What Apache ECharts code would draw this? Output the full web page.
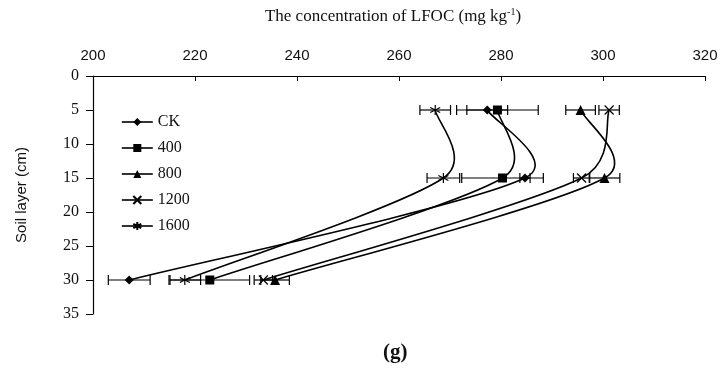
<!doctype html>
<html>
<head>
<meta charset="UTF-8">
<title>LFOC</title>
<script src="https://cdn.jsdelivr.net/npm/echarts@6/dist/echarts.min.js"></script>
<style>
  html, body { margin: 0; padding: 0; background: #fff; }
  #chart { width: 723px; height: 379px; }
</style>
</head>
<body>
<div id="chart"></div>
<script>
// soil depth (cm) of each sample
var depths = [5, 15, 30];
// LFOC means (mg kg-1) and error bar half widths
var ckVals = [277.3, 284.7, 207.1];
var ckErr = [4, 1, 4.1];
var t400Vals = [279.3, 280.3, 222.9];
var t400Err = [8, 8, 7.8];
var t800Vals = [295.6, 300.3, 235.7];
var t800Err = [2.9, 3, 2.8];
var t1200Vals = [301.2, 295.8, 233.4];
var t1200Err = [2, 1.6, 1.8];
var t1600Vals = [267.1, 268.7, 218.0];
var t1600Err = [3, 3.2, 3.1];
var xTicks = [200, 220, 240, 260, 280, 300, 320];
var yTicks = [0, 5, 10, 15, 20, 25, 30, 35];

var groups = [
  { name: 'CK', vals: ckVals, err: ckErr, symbol: 'diamond', size: 9 },
  { name: '400', vals: t400Vals, err: t400Err, symbol: 'rect', size: 9 },
  { name: '800', vals: t800Vals, err: t800Err, symbol: 'triangle', size: 10 },
  { name: '1200', vals: t1200Vals, err: t1200Err, symbol: 'path://M0,0L10,10M10,0L0,10', size: 9, hollow: true },
  { name: '1600', vals: t1600Vals, err: t1600Err, symbol: 'path://M5,0L5,10M0.7,2.5L9.3,7.5M9.3,2.5L0.7,7.5', size: 10, hollow: true }
];

// Excel-like smoothed line: tangent = next - prev, arm = 1/6 of it,
// but never more than half of the neighbouring segment
function smoothSegs(pts) {
  var n = pts.length, cin = [], cout = [];
  var dist = function(a, b) { return Math.hypot(b[0] - a[0], b[1] - a[1]); };
  for (var i = 0; i < n; i++) {
    var p = pts[i];
    var a = pts[Math.max(i - 1, 0)], b = pts[Math.min(i + 1, n - 1)];
    var vx = b[0] - a[0], vy = b[1] - a[1];
    var L = Math.hypot(vx, vy) || 1;
    var ux = vx / L, uy = vy / L;
    var armIn = i > 0 ? Math.min(L / 6, dist(pts[i - 1], p) / 2) : 0;
    var armOut = i < n - 1 ? Math.min(L / 6, dist(p, pts[i + 1]) / 2) : 0;
    cin[i] = [p[0] - ux * armIn, p[1] - uy * armIn];
    cout[i] = [p[0] + ux * armOut, p[1] + uy * armOut];
  }
  var segs = [];
  for (var j = 0; j < n - 1; j++) {
    segs.push({
      x1: pts[j][0], y1: pts[j][1],
      cpx1: cout[j][0], cpy1: cout[j][1],
      cpx2: cin[j + 1][0], cpy2: cin[j + 1][1],
      x2: pts[j + 1][0], y2: pts[j + 1][1]
    });
  }
  return segs;
}

var series = [];
// error bars first, drawn under the lines
groups.forEach(function(g) {
  var bars = depths.map(function(d, i) {
    return [g.vals[i] - g.err[i], g.vals[i] + g.err[i], d];
  });
  series.push({
    type: 'custom',
    z: 1,
    silent: true,
    data: bars,
    renderItem: function(params, api) {
      var a = api.coord([api.value(0), api.value(2)]);
      var b = api.coord([api.value(1), api.value(2)]);
      var h = 5;
      var st = { stroke: '#000', lineWidth: 1.2 };
      return {
        type: 'group',
        children: [
          { type: 'line', shape: { x1: a[0], y1: a[1], x2: b[0], y2: b[1] }, style: st },
          { type: 'line', shape: { x1: a[0], y1: a[1] - h, x2: a[0], y2: a[1] + h }, style: st },
          { type: 'line', shape: { x1: b[0], y1: b[1] - h, x2: b[0], y2: b[1] + h }, style: st }
        ]
      };
    }
  });
});
// smoothed curves
groups.forEach(function(g) {
  series.push({
    type: 'custom',
    z: 2,
    silent: true,
    data: [[g.vals[0], depths[0]]],
    renderItem: function(params, api) {
      var pts = depths.map(function(d, i) { return api.coord([g.vals[i], d]); });
      return {
        type: 'group',
        children: smoothSegs(pts).map(function(sg) {
          return { type: 'bezierCurve', shape: sg, style: { stroke: '#000', fill: null, lineWidth: 1.6 } };
        })
      };
    }
  });
});
// markers (and legend entries)
groups.forEach(function(g) {
  series.push({
    name: g.name,
    type: 'line',
    z: 3,
    symbol: g.symbol,
    symbolSize: g.size,
    data: depths.map(function(d, i) { return [g.vals[i], d]; }),
    lineStyle: { color: '#000', width: 1.6, opacity: 0 },
    itemStyle: g.hollow ? { color: 'none', borderColor: '#000', borderWidth: 1.2 } : { color: '#000' },
    emphasis: { disabled: true }
  });
});

var chart = echarts.init(document.getElementById('chart'));
chart.setOption({
  animation: false,
  backgroundColor: '#fff',
  title: {
    text: 'The concentration of LFOC (mg kg{sup|-1})',
    left: 388,
    textAlign: 'center',
    top: 2,
    textStyle: {
      fontFamily: 'Liberation Serif',
      fontSize: 17,
      fontWeight: 'normal',
      color: '#111',
      rich: {
        sup: { fontFamily: 'Liberation Serif', fontSize: 10, color: '#111', padding: [0, 0, 9, 0] }
      }
    }
  },
  legend: {
    orient: 'vertical',
    left: 116,
    top: 109,
    itemWidth: 31,
    itemHeight: 10,
    itemGap: 10,
    data: groups.map(function(g) { return g.name; }),
    lineStyle: { color: '#000', width: 1.6, opacity: 1 },
    textStyle: { fontFamily: 'Liberation Serif', fontSize: 16, color: '#111' }
  },
  grid: { left: 93, right: 18, top: 76, bottom: 65 },
  xAxis: {
    type: 'value',
    position: 'top',
    min: xTicks[0],
    max: xTicks[xTicks.length - 1],
    interval: 20,
    axisLine: { lineStyle: { color: '#000', width: 1.2 } },
    axisTick: { inside: true, length: 5, lineStyle: { color: '#000' } },
    axisLabel: { margin: 13, fontFamily: 'Liberation Sans', fontSize: 15, color: '#111' },
    splitLine: { show: false }
  },
  yAxis: {
    type: 'value',
    inverse: true,
    min: yTicks[0],
    max: yTicks[yTicks.length - 1],
    interval: 5,
    name: 'Soil layer (cm)',
    nameLocation: 'middle',
    nameGap: 64,
    nameTextStyle: { fontFamily: 'Liberation Sans', fontSize: 15, color: '#111' },
    axisLine: { lineStyle: { color: '#000', width: 1.2 } },
    axisTick: { length: 7, lineStyle: { color: '#000' } },
    axisLabel: { margin: 14, fontFamily: 'Liberation Serif', fontSize: 16, color: '#111' },
    splitLine: { show: false }
  },
  graphic: [{
    type: 'text',
    left: 383,
    top: 342,
    style: { text: '(g)', font: 'bold 21px "Liberation Serif"', fill: '#111' }
  }],
  series: series
});
</script>
</body>
</html>
